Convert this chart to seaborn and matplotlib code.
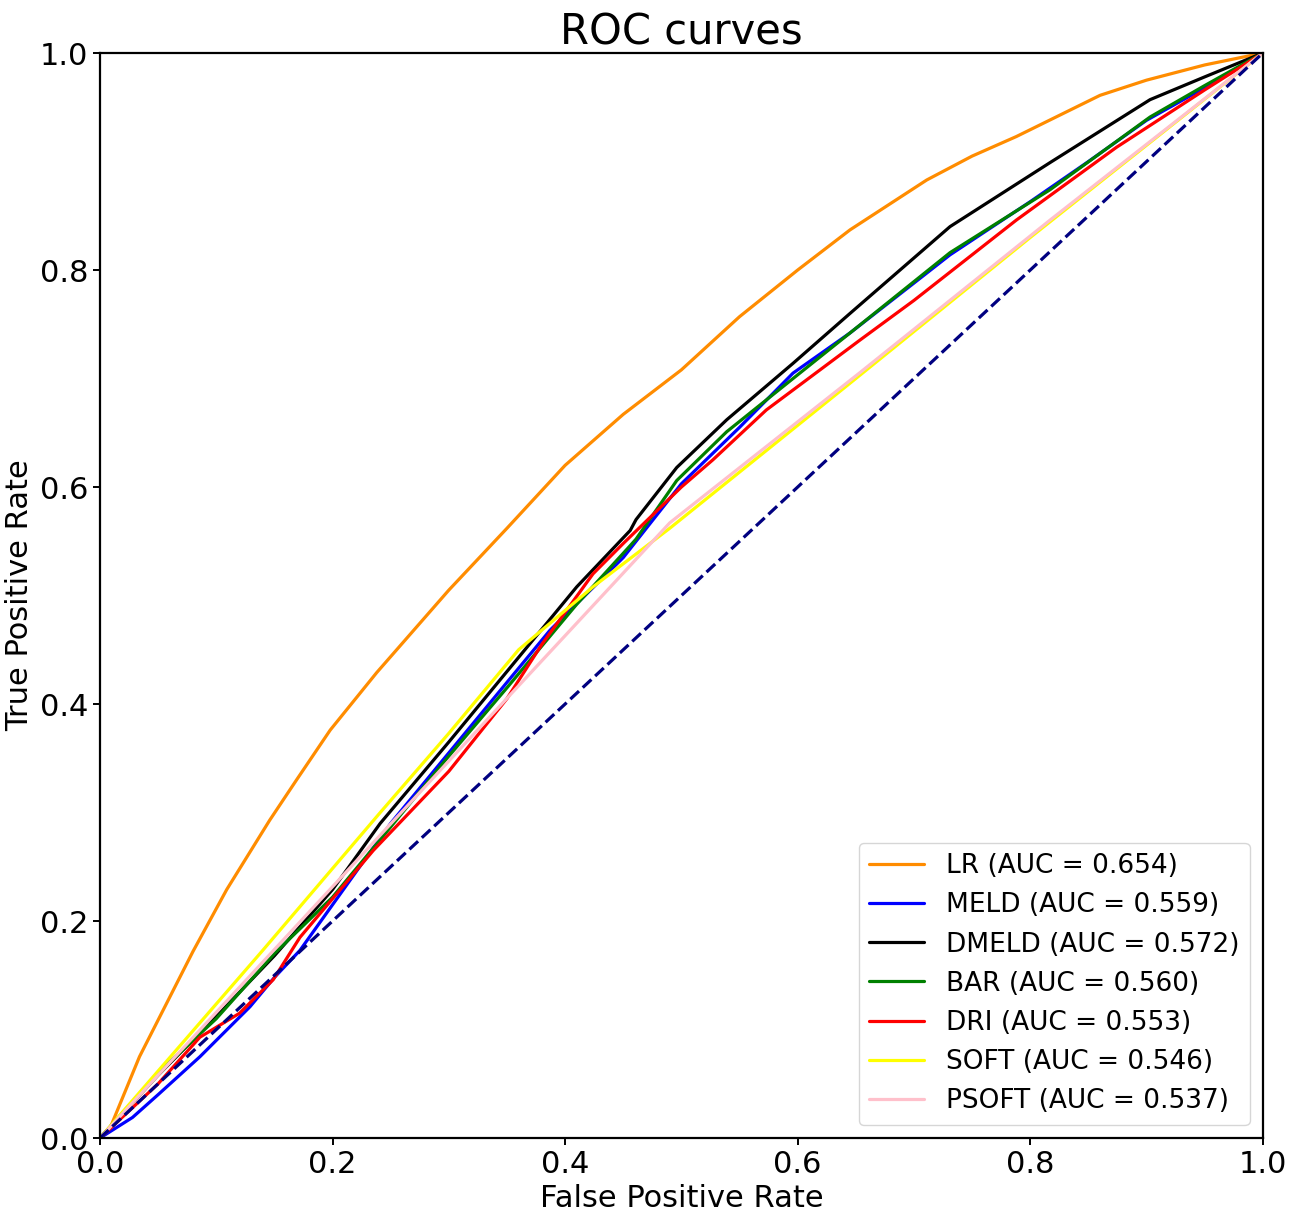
import pandas as pd
import numpy as np
import seaborn as sns
import matplotlib
matplotlib.use("Agg")
import matplotlib.pyplot as plt

# ROC points (FPR, TPR per model)
lr_fpr = [0, 0.009, 0.034, 0.08, 0.109, 0.146, 0.169, 0.198, 0.238, 0.3, 0.35, 0.4, 0.45, 0.5,
          0.55, 0.6, 0.645, 0.711, 0.75, 0.788, 0.86, 0.9, 0.95, 1.0]
lr_tpr = [0, 0.010, 0.075, 0.172, 0.229, 0.293, 0.330, 0.376, 0.429, 0.505, 0.562, 0.620, 0.667, 0.708,
          0.757, 0.80, 0.837, 0.883, 0.905, 0.923, 0.961, 0.975, 0.989, 1.0]

meld_fpr = [0, 0.028, 0.05, 0.086, 0.1, 0.129, 0.15, 0.172, 0.2, 0.25, 0.3, 0.35, 0.387, 0.45,
            0.5, 0.55, 0.596, 0.645, 0.7, 0.731, 0.8, 0.85, 0.9, 0.95, 1.0]
meld_tpr = [0, 0.019, 0.04, 0.075, 0.09, 0.121, 0.148, 0.173, 0.215, 0.29, 0.355, 0.42, 0.468, 0.535,
            0.603, 0.655, 0.705, 0.742, 0.788, 0.814, 0.863, 0.9, 0.938, 0.968, 1.0]

grid_fpr = [0, 0.05, 0.1, 0.15, 0.2, 0.241, 0.3, 0.35, 0.41, 0.456, 0.461, 0.496, 0.539,
            0.596, 0.645, 0.731, 0.817, 0.903, 0.95, 1.0]
dmeld_tpr = [0, 0.058, 0.112, 0.168, 0.229, 0.290, 0.365, 0.43, 0.508, 0.560, 0.570, 0.618, 0.662,
             0.714, 0.760, 0.840, 0.899, 0.957, 0.978, 1.0]
bar_tpr = [0, 0.06, 0.11, 0.17, 0.222, 0.275, 0.352, 0.415, 0.492, 0.546, 0.552, 0.606, 0.651,
           0.700, 0.742, 0.816, 0.874, 0.941, 0.97, 1.0]

dri_fpr = [0, 0.05, 0.086, 0.12, 0.149, 0.172, 0.235, 0.3, 0.35, 0.38, 0.424, 0.45, 0.5, 0.527,
           0.573, 0.653, 0.7, 0.788, 0.874, 0.95, 1.0]
dri_tpr = [0, 0.05, 0.093, 0.115, 0.146, 0.185, 0.265, 0.338, 0.405, 0.455, 0.52, 0.548, 0.600, 0.625,
           0.671, 0.735, 0.772, 0.846, 0.913, 0.966, 1.0]

soft_fpr = [0, 0.14, 0.241, 0.3, 0.36, 0.424, 0.49, 0.65, 0.8, 1.0]
soft_tpr = [0, 0.173, 0.300, 0.373, 0.45, 0.508, 0.562, 0.70, 0.83, 1.0]

psoft_fpr = [0, 0.316, 0.439, 0.49, 0.653, 0.817, 1.0]
psoft_tpr = [0, 0.366, 0.508, 0.567, 0.705, 0.846, 1.0]

models = ["LR", "MELD", "DMELD", "BAR", "DRI", "SOFT", "PSOFT"]
aucs = [0.654, 0.559, 0.572, 0.560, 0.553, 0.546, 0.537]
colors = ["darkorange", "blue", "black", "green", "red", "yellow", "pink"]

curves = [(lr_fpr, lr_tpr), (meld_fpr, meld_tpr), (grid_fpr, dmeld_tpr), (grid_fpr, bar_tpr),
          (dri_fpr, dri_tpr), (soft_fpr, soft_tpr), (psoft_fpr, psoft_tpr)]

sns.set_theme(style="ticks", rc={"axes.edgecolor": "black", "axes.linewidth": 1.6,
                                 "text.color": "black", "axes.labelcolor": "black",
                                 "xtick.color": "black", "ytick.color": "black",
                                 "xtick.major.width": 1.4, "ytick.major.width": 1.4,
                                 "xtick.major.size": 5, "ytick.major.size": 5})
plt.rcParams["font.family"] = ["DejaVu Sans"]

fig, ax = plt.subplots(figsize=(13.1, 12.16), dpi=100)
fig.subplots_adjust(left=0.0763, right=0.964, bottom=0.0641, top=0.9564)

for name, auc, col, (fpr, tpr) in zip(models, aucs, colors, curves):
    df = pd.DataFrame({"fpr": fpr, "tpr": tpr})
    sns.lineplot(data=df, x="fpr", y="tpr", sort=False, estimator=None, color=col,
                 lw=2.3, label=f"{name} (AUC = {auc:.3f})", ax=ax)

diag = pd.DataFrame({"fpr": [0, 1], "tpr": [0, 1]})
sns.lineplot(data=diag, x="fpr", y="tpr", color="navy", lw=2.3, linestyle="--", ax=ax)

ax.set_xlim(0, 1)
ax.set_ylim(0, 1)
ax.set_xticks([0, 0.2, 0.4, 0.6, 0.8, 1.0])
ax.set_yticks([0, 0.2, 0.4, 0.6, 0.8, 1.0])
ax.set_xticklabels(["0.0", "0.2", "0.4", "0.6", "0.8", "1.0"])
ax.set_yticklabels(["0.0", "0.2", "0.4", "0.6", "0.8", "1.0"])
ax.tick_params(labelsize=22)
ax.set_xlabel("False Positive Rate", fontsize=22)
ax.set_ylabel("True Positive Rate", fontsize=22)
ax.set_title("ROC curves", fontsize=30)
ax.legend(loc="lower right", fontsize=19, handlelength=2.1)

plt.savefig("out.png", dpi=100)
